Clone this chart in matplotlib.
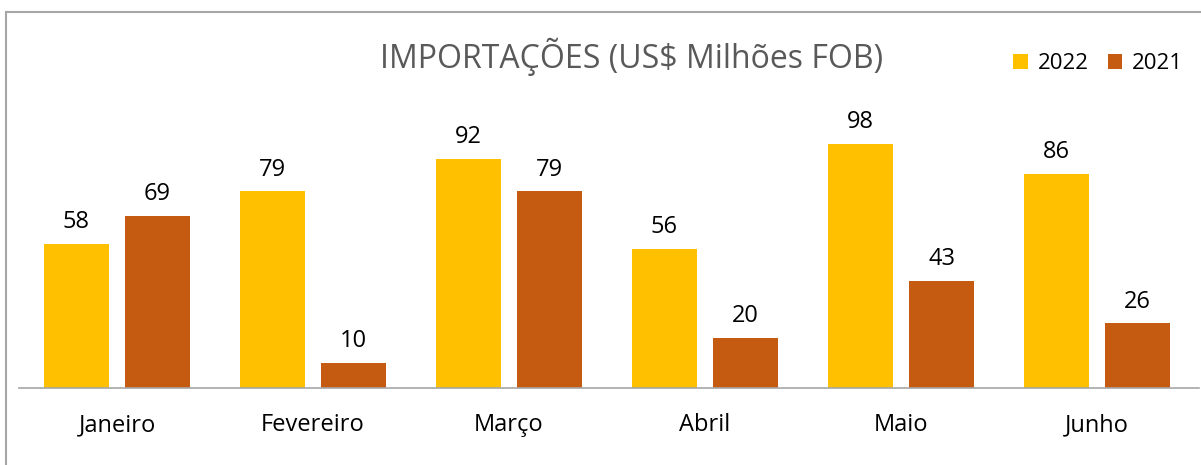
import matplotlib.pyplot as plt
from matplotlib.lines import Line2D

months = ["Janeiro", "Fevereiro", "Março", "Abril", "Maio", "Junho"]
imp_2022 = [58, 79, 92, 56, 98, 86]
imp_2021 = [69, 10, 79, 20, 43, 26]

c2022 = "#FFC000"
c2021 = "#C55A11"

W, H = 1201, 465
fig = plt.figure(figsize=(W / 100, H / 100), dpi=100)
fig.patch.set_facecolor("white")

# axes placed in pixel terms: left 19, right 1199, baseline y=388, top y=40
ax = fig.add_axes([19 / W, (H - 388) / H, (1199 - 19) / W, (388 - 40) / H])
ax.set_xlim(0, 1180 / 196)
ax.set_ylim(0, 348 / 2.49)

x = [i + 0.5 for i in range(len(months))]
w = 0.332
off = 0.207
b1 = ax.bar([v - off for v in x], imp_2022, w, color=c2022, label="2022")
b2 = ax.bar([v + off for v in x], imp_2021, w, color=c2021, label="2021")

for bars, vals in ((b1, imp_2022), (b2, imp_2021)):
    for r, v in zip(bars, vals):
        ax.annotate(str(v), (r.get_x() + r.get_width() / 2, v),
                    xytext=(0, 7), textcoords="offset points",
                    ha="center", va="bottom", fontsize=17, color="#000000",
                    family="Open Sans")

ax.set_xticks(x)
ax.set_xticklabels(months, fontsize=17, family="Open Sans")
ax.tick_params(axis="x", length=0, pad=18)
ax.set_yticks([])
for s in ["top", "right", "left"]:
    ax.spines[s].set_visible(False)
ax.spines["bottom"].set_color("#A6A6A6")
ax.spines["bottom"].set_linewidth(1.2)

fig.text(632 / W, 1 - 57 / H, "IMPORTAÇÕES (US$ Milhões FOB)", ha="center",
         va="center", fontsize=23, color="#595959", family="Open Sans")

leg = ax.legend(loc="upper right", bbox_to_anchor=(1203 / W, 1 - 33 / H),
                bbox_transform=fig.transFigure, ncol=2, frameon=False,
                prop={"family": "Open Sans", "size": 16},
                handlelength=0.65, handleheight=0.65, handletextpad=0.45,
                columnspacing=0.85)

# outer frame (left and top edges visible in the crop)
fig.add_artist(Line2D([6 / W, 6 / W], [0, 1 - 12 / H], color="#A6A6A6", lw=1.5,
                      transform=fig.transFigure))
fig.add_artist(Line2D([6 / W, 1], [1 - 12 / H, 1 - 12 / H], color="#A6A6A6",
                      lw=1.5, transform=fig.transFigure))

fig.savefig("out.png", dpi=100)
